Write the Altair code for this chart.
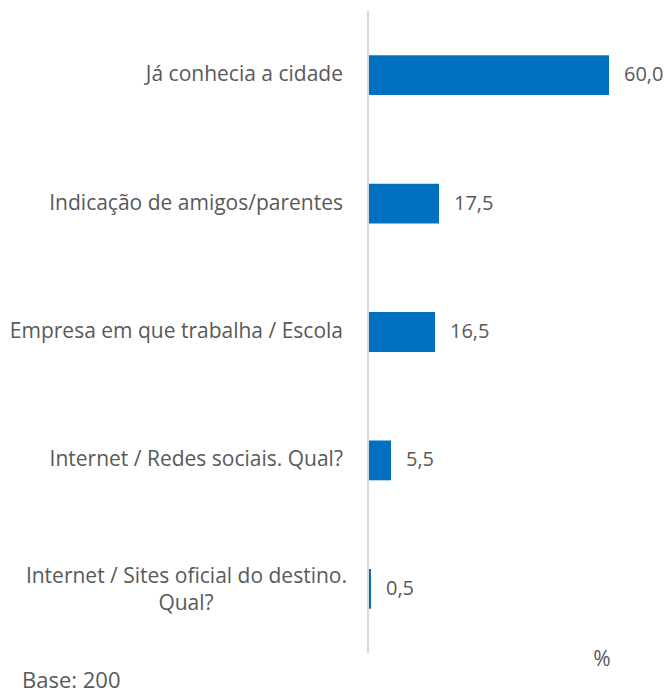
import altair as alt
import pandas as pd

categories = [
    "Já conhecia a cidade",
    "Indicação de amigos/parentes",
    "Empresa em que trabalha / Escola",
    "Internet / Redes sociais. Qual?",
    "Internet / Sites oficial do destino. Qual?",
]
values = [60.0, 17.5, 16.5, 5.5, 0.5]
label_first = [
    "Já conhecia a cidade",
    "Indicação de amigos/parentes",
    "Empresa em que trabalha / Escola",
    "Internet / Redes sociais. Qual?",
    "Internet / Sites oficial do destino.",
]
label_second = ["", "", "", "", "Qual?"]
unit_text = "%"
base_text = "Base: 200"

FONT = "Open Sans"
FS = 21
GRAY = "#595959"
BLUE = "#0070C0"

df = pd.DataFrame({
    "cat": categories,
    "val": values,
    "lbl": [f"{v:.1f}".replace(".", ",") for v in values],
    "l1": label_first,
    "l2": label_second,
})

W, H = 240, 642

y = alt.Y("cat:N", sort=categories, axis=None,
          scale=alt.Scale(paddingInner=0.69, paddingOuter=0.345))
x = alt.X("val:Q", axis=None, scale=alt.Scale(domain=[0, 60]))

bars = alt.Chart(df).mark_bar(color=BLUE).encode(x=x, y=y)
vals = alt.Chart(df).mark_text(align="left", dx=15, font=FONT, fontSize=FS - 1, color=GRAY).encode(
    x=x, y=y, text="lbl:N")

single = df[df["l2"] == ""]
double = df[df["l2"] != ""]
lab1 = alt.Chart(single).mark_text(align="right", font=FONT, fontSize=FS, color=GRAY).encode(
    x=alt.value(-26), y=y, text="l1:N")
lab2a = alt.Chart(double).mark_text(align="right", dy=-12, font=FONT, fontSize=FS, color=GRAY).encode(
    x=alt.value(-22), y=y, text="l1:N")
lab2b = alt.Chart(double).mark_text(align="center", dy=15, font=FONT, fontSize=FS, color=GRAY).encode(
    x=alt.value(-183), y=y, text="l2:N")

axis_line = alt.Chart(df).mark_rule(color="#d9d9d9", strokeWidth=1.5).encode(
    x=alt.value(-1), y=alt.value(0), y2=alt.value(H))

unit = alt.Chart(pd.DataFrame({"t": [unit_text]})).mark_text(
    font=FONT, fontSize=FS, color=GRAY, align="center").encode(
    x=alt.value(233), y=alt.value(649), text="t:N")
base = alt.Chart(pd.DataFrame({"t": [base_text]})).mark_text(
    font=FONT, fontSize=FS + 1, color=GRAY, align="left", baseline="alphabetic").encode(
    x=alt.value(-347), y=alt.value(677), text="t:N")

chart = alt.layer(axis_line, bars, vals, lab1, lab2a, lab2b, unit, base).properties(
    width=W, height=H,
    autosize=alt.AutoSizeParams(type="none"),
    padding={"left": 361, "top": 3, "right": 54, "bottom": 40},
).configure_view(stroke=None)

chart.save("out.html", embed_options={"renderer": "svg", "actions": False})
